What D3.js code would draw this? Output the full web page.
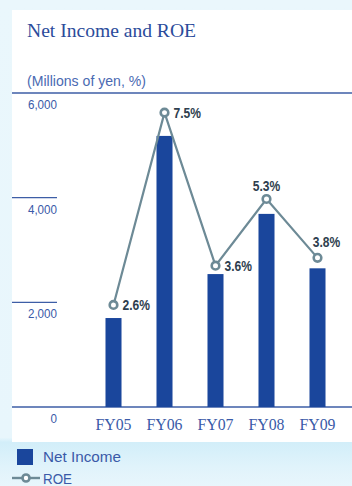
<!DOCTYPE html>
<html><head><meta charset="utf-8">
<script src="https://cdn.jsdelivr.net/npm/d3@7"></script>
<style>
html,body{margin:0;padding:0;}
body{width:352px;height:486px;overflow:hidden;}
</style></head>
<body>
<script>
const categories = ["FY05","FY06","FY07","FY08","FY09"];
const netIncome = [1700, 5180, 2540, 3690, 2650];
const roe = [2.6, 7.5, 3.6, 5.3, 3.8];
const roeLabels = ["2.6%","7.5%","3.6%","5.3%","3.8%"];
const yTicks = [0, 2000, 4000, 6000];

const W = 352, H = 486;
const svg = d3.select("body").append("svg").attr("width", W).attr("height", H);
const defs = svg.append("defs");
const g = defs.append("linearGradient").attr("id","bg").attr("x1",0).attr("y1",0).attr("x2",0).attr("y2",1);
g.append("stop").attr("offset","0%").attr("stop-color","#eaf7fc");
g.append("stop").attr("offset","90%").attr("stop-color","#e8f6fc");
g.append("stop").attr("offset","91%").attr("stop-color","#d2eef9");
g.append("stop").attr("offset","96%").attr("stop-color","#e0f3fb");
g.append("stop").attr("offset","100%").attr("stop-color","#e8f6fc");
svg.append("rect").attr("width",W).attr("height",H).attr("fill","url(#bg)");
svg.append("rect").attr("x",12).attr("y",10).attr("width",W-12).attr("height",432).attr("fill","#ffffff");

const sans = "'Liberation Sans',Arial,sans-serif";
const serif = "'Liberation Serif','DejaVu Serif',serif";
const blueText = "#3a5aa8";
function condense(sel, f){
  sel.each(function(){
    const L = this.getComputedTextLength();
    d3.select(this).attr("textLength", L*f).attr("lengthAdjust","spacingAndGlyphs");
  });
}

svg.append("text").attr("x",27).attr("y",37).text("Net Income and ROE")
  .attr("font-family",serif).attr("font-size",19.5).attr("fill","#2b4b9b")
  .attr("textLength",169).attr("lengthAdjust","spacingAndGlyphs");
svg.append("text").attr("x",27).attr("y",86).text("(Millions of yen, %)")
  .attr("font-family",sans).attr("font-size",14).attr("fill","#4a6ab2")
  .attr("textLength",119).attr("lengthAdjust","spacingAndGlyphs");

const y = d3.scaleLinear().domain([0,6000]).range([407,93]);
const yR = d3.scaleLinear().domain([0,8]).range([407,93]);
const x = d3.scaleBand().domain(categories).range([88,343]).paddingInner(0.686).paddingOuter(0.343);

yTicks.forEach(t=>{
  const full = (t===0 || t===6000);
  svg.append("line").attr("x1",12).attr("x2", full?W:57).attr("y1",y(t)).attr("y2",y(t))
    .attr("stroke","#3d5ea6").attr("stroke-width", full?1.5:1.2);
  const tx = svg.append("text").attr("x",57).attr("y",y(t)+16).attr("text-anchor","end").text(d3.format(",")(t))
    .attr("font-family",sans).attr("font-size",13.5).attr("fill",blueText);
  condense(tx, 0.86);
});

svg.selectAll("rect.bar").data(netIncome).enter().append("rect").attr("class","bar")
  .attr("x",(d,i)=>x(categories[i])).attr("width",x.bandwidth())
  .attr("y",d=>y(d)).attr("height",d=>y(0)-y(d)).attr("fill","#1a469c");

const xl = svg.selectAll("text.xl").data(categories).enter().append("text").attr("class","xl")
  .attr("x",d=>x(d)+x.bandwidth()/2).attr("y",430).attr("text-anchor","middle").text(d=>d)
  .attr("font-family",serif).attr("font-size",16).attr("fill",blueText)
  .attr("textLength",36).attr("lengthAdjust","spacingAndGlyphs");

const cx = (i)=>x(categories[i])+x.bandwidth()/2;
const line = d3.line().x((d,i)=>cx(i)).y(d=>yR(d));
svg.append("path").datum(roe).attr("d",line).attr("fill","none").attr("stroke","#6d8a96").attr("stroke-width",2.2);
svg.selectAll("circle.pt").data(roe).enter().append("circle").attr("class","pt")
  .attr("cx",(d,i)=>cx(i)).attr("cy",d=>yR(d)).attr("r",3.8)
  .attr("fill","#ffffff").attr("stroke","#6d8a96").attr("stroke-width",2.6);

const labelDx = [9, 9, 9, 0, 9];
const labelDy = [5, 5, 5, -8, -11];
const anchor = ["start","start","start","middle","middle"];
const rl = svg.selectAll("text.rl").data(roe).enter().append("text").attr("class","rl")
  .attr("x",(d,i)=>cx(i)+labelDx[i])
  .attr("y",(d,i)=>yR(d)+labelDy[i])
  .attr("text-anchor",(d,i)=>anchor[i])
  .text((d,i)=>roeLabels[i])
  .attr("font-family",sans).attr("font-weight","bold").attr("font-size",14).attr("fill","#2e3e4e");
condense(rl, 0.86);

svg.append("rect").attr("x",17).attr("y",449).attr("width",16).attr("height",16).attr("fill","#1a469c");
svg.append("text").attr("x",43).attr("y",462).text("Net Income")
  .attr("font-family",sans).attr("font-size",15.5).attr("fill",blueText)
  .attr("textLength",78).attr("lengthAdjust","spacingAndGlyphs");
svg.append("line").attr("x1",12).attr("x2",40).attr("y1",478).attr("y2",478).attr("stroke","#6d8a96").attr("stroke-width",2.4);
svg.append("circle").attr("cx",26).attr("cy",478).attr("r",3.5).attr("fill","#ffffff").attr("stroke","#6d8a96").attr("stroke-width",2.6);
svg.append("text").attr("x",43).attr("y",484).text("ROE")
  .attr("font-family",sans).attr("font-size",15.5).attr("fill",blueText)
  .attr("textLength",29).attr("lengthAdjust","spacingAndGlyphs");
</script>
</body></html>
